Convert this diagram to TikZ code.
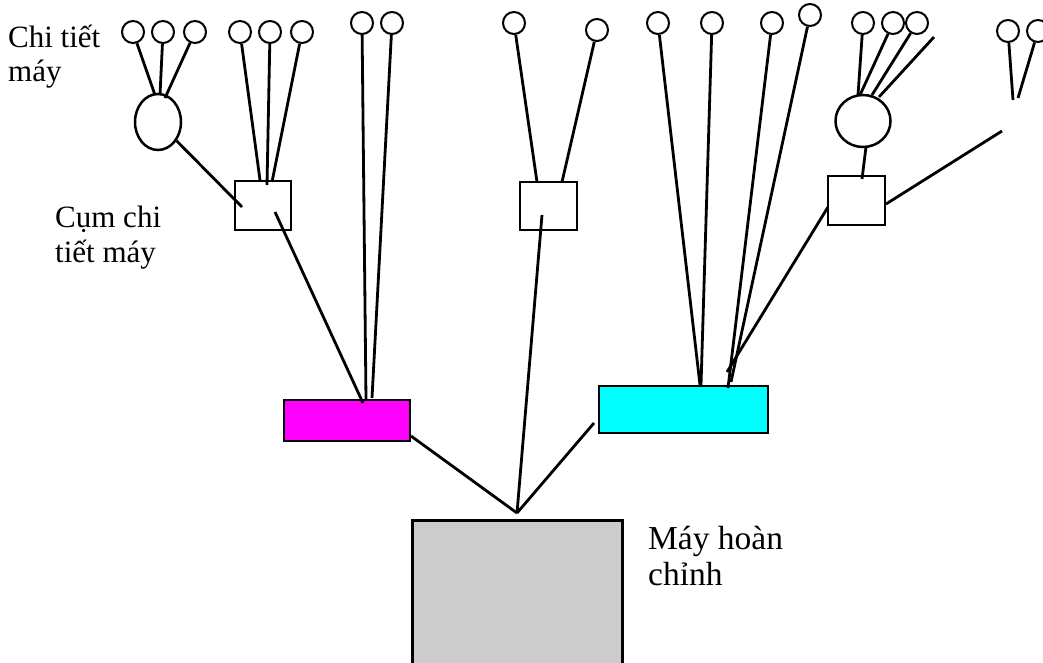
\documentclass[tikz,border=0pt]{standalone}
\usepackage{fontspec}
\setmainfont{Liberation Serif}
\usetikzlibrary{shapes.geometric}
\begin{document}
\begin{tikzpicture}[x=1pt,y=-1pt,
  part/.style={draw,circle,line width=2pt,minimum size=22pt,inner sep=0pt},
  grp/.style={draw,ellipse,line width=2.5pt,inner sep=0pt},
  unit/.style={draw,rectangle,line width=2.5pt,inner sep=0pt},
  link/.style={line width=2.8pt},
  lbl/.style={anchor=base west,inner sep=0pt,font=\fontsize{31}{35}\selectfont},
  lblb/.style={lbl,font=\fontsize{33.5}{36}\selectfont}]
\useasboundingbox (0,0) rectangle (1043,663);
\clip (0,0) rectangle (1043,663);
% boxes
\node[unit,fill={rgb,255:red,204;green,204;blue,204},minimum width=210pt,minimum height=190pt,anchor=north west] (G) at (411,519) {};
\node[unit,fill={rgb,255:red,255;green,0;blue,255},minimum width=126pt,minimum height=41pt] (M) at (347,420.5) {};
\node[unit,fill={rgb,255:red,0;green,255;blue,255},minimum width=169pt,minimum height=47pt] (C) at (683.5,409.5) {};
\node[unit,fill=white,minimum width=56pt,minimum height=49pt] (R1) at (263,205.5) {};
\node[unit,fill=white,minimum width=57pt,minimum height=48pt] (R2) at (548.5,206) {};
\node[unit,fill=white,minimum width=57pt,minimum height=49pt] (R3) at (856.5,200.5) {};
\node[grp,minimum width=46pt,minimum height=56pt] (E1) at (158,122) {};
\node[grp,minimum width=55pt,minimum height=52pt] (E2) at (863,121) {};
% parts
\foreach \n/\x/\y in {c1/133/32,c2/163/32,c3/195/32,c4/240/32,c5/270/32,c6/302/32,
  c7/362/23,c8/392/23,c9/514/23,c10/597/30,c11/658/23,c12/712/23,c13/772/23,c14/810/15,
  c15/863/23,c16/893/23,c17/917/23,c18/1008/31,c19/1038/31}
  \node[part] (\n) at (\x,\y) {};
% end points
\coordinate (e1a) at (155,95);
\coordinate (e1b) at (160,95);
\coordinate (e1c) at (165,98);
\coordinate (r1a) at (242,207);
\coordinate (r1b) at (260,180);
\coordinate (r1c) at (267,185);
\coordinate (r1d) at (272,182);
\coordinate (r1o) at (275,212);
\coordinate (ma) at (363,403);
\coordinate (mb) at (366,400);
\coordinate (mc) at (372,398);
\coordinate (r2a) at (537,182);
\coordinate (r2b) at (562,182);
\coordinate (r2o) at (542,215);
\coordinate (top) at (517,513);
\coordinate (mo) at (411,436);
\coordinate (co) at (594,423);
\coordinate (ca) at (700,385);
\coordinate (cb) at (701,385);
\coordinate (cc) at (728,388);
\coordinate (cd) at (731,382);
\coordinate (ce) at (727,372);
\coordinate (r3l) at (828,207);
\coordinate (r3r) at (886,204);
\coordinate (r3t) at (862,179);
\coordinate (e2o) at (866,147);
\coordinate (e2a) at (858,95);
\coordinate (e2b) at (860,95);
\coordinate (e2c) at (872,95);
\coordinate (e2d) at (879,97);
\coordinate (fs) at (934,37);
\coordinate (fr) at (1002,131);
\coordinate (fa) at (1013,100);
\coordinate (fb) at (1018,98);
% connectors
\draw[link] (c1) -- (e1a);
\draw[link] (c2) -- (e1b);
\draw[link] (c3) -- (e1c);
\draw[link] (E1) -- (r1a);
\draw[link] (c4) -- (r1b);
\draw[link] (c5) -- (r1c);
\draw[link] (c6) -- (r1d);
\draw[link] (r1o) -- (ma);
\draw[link] (c7) -- (mb);
\draw[link] (c8) -- (mc);
\draw[link] (c9) -- (r2a);
\draw[link] (c10) -- (r2b);
\draw[link] (r2o) -- (top);
\draw[link] (mo) -- (top);
\draw[link] (co) -- (top);
\draw[link] (c11) -- (ca);
\draw[link] (c12) -- (cb);
\draw[link] (c13) -- (cc);
\draw[link] (c14) -- (cd);
\draw[link] (r3l) -- (ce);
\draw[link] (c15) -- (e2a);
\draw[link] (c16) -- (e2b);
\draw[link] (c17) -- (e2c);
\draw[link] (fs) -- (e2d);
\draw[link] (e2o) -- (r3t);
\draw[link] (r3r) -- (fr);
\draw[link] (c18) -- (fa);
\draw[link] (c19) -- (fb);
% labels
\node[lbl] (t1) at (8,48) {Chi tiết};
\node[lbl] (t2) at (8,82) {máy};
\node[lbl] (t3) at (55,227) {Cụm chi};
\node[lbl] (t4) at (55,262) {tiết máy};
\node[lblb] (t5) at (648,549) {Máy hoàn};
\node[lblb] (t6) at (648,585) {chỉnh};
\end{tikzpicture}
\end{document}
